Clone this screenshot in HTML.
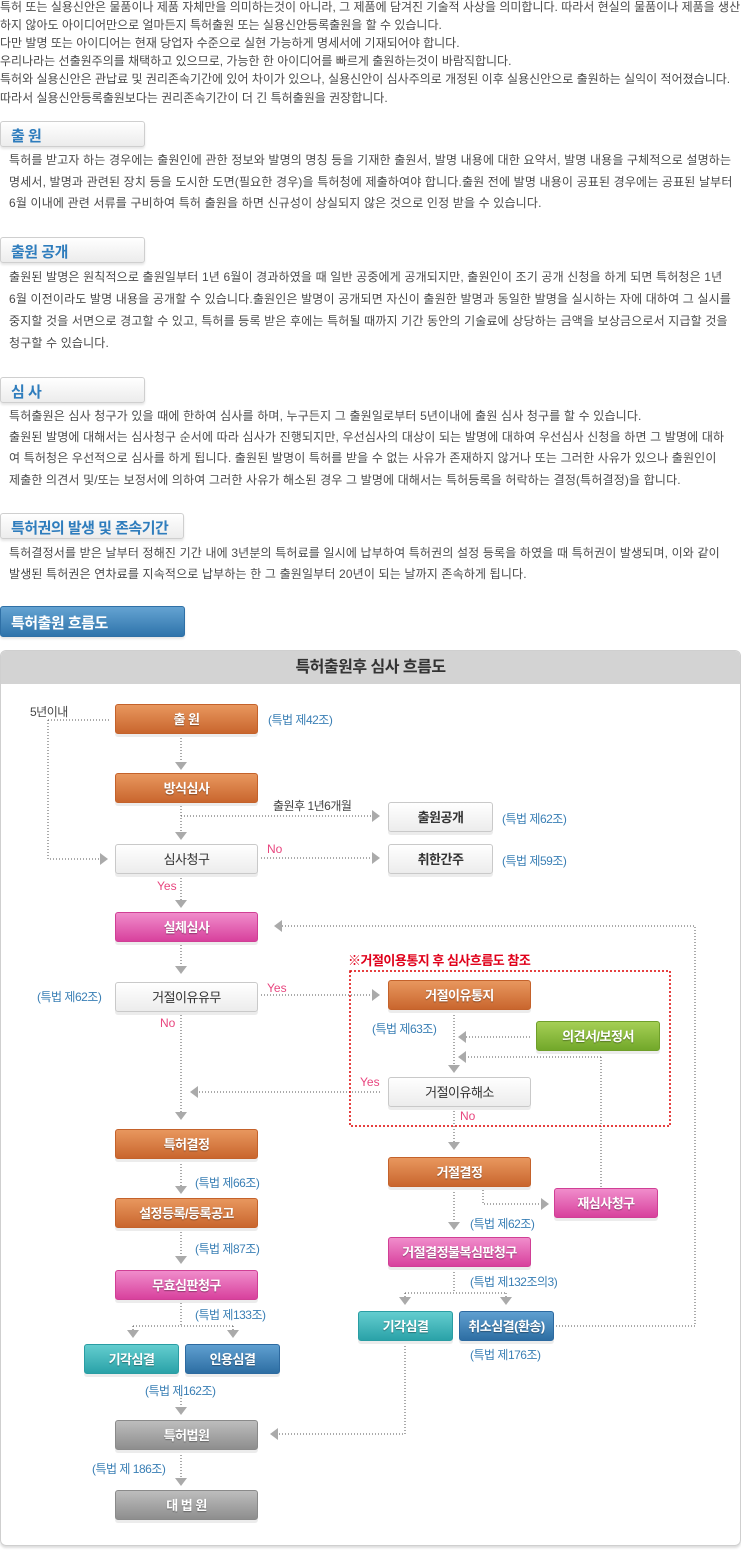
<!DOCTYPE html>
<html><head><meta charset="utf-8">
<style>
*{margin:0;padding:0;box-sizing:border-box}
body{width:741px;height:1550px;position:relative;background:#fff;font-family:"Liberation Sans","Noto Sans CJK KR",sans-serif;color:#4a4a4a;overflow:hidden}
.t{position:absolute;font-size:12px;white-space:nowrap;letter-spacing:0;line-height:14px}
.tb{letter-spacing:0.15px}
.sh{position:absolute;left:0;width:145px;height:26px;border:1px solid #cfcfcf;border-radius:3px;background:linear-gradient(#fff,#ececec);box-shadow:0 2px 2px #e6e6e6;color:#2f7dbd;font-weight:bold;font-size:15px;padding:3px 0 0 10px;letter-spacing:-0.5px;white-space:nowrap}
.bx{position:absolute;width:143px;height:30px;border-radius:3px;color:#fff;font-weight:bold;font-size:13px;text-align:center;line-height:30px;text-shadow:0 1px 1px rgba(0,0,0,.35);box-shadow:0 3px 0 #ececec;letter-spacing:-0.5px;white-space:nowrap}
.o{background:linear-gradient(#e8975e,#c9662e);border:1px solid #c4622b}
.p{background:linear-gradient(#f08ccb,#d8419d);border:1px solid #d03f95}
.g{background:linear-gradient(#a5cf55,#72a82a);border:1px solid #6f9f2a}
.c{background:linear-gradient(#63cdcf,#2aa2a8);border:1px solid #2a9da3}
.b{background:linear-gradient(#5f9fd0,#2d6ea3);border:1px solid #2d6aa0}
.gr{background:linear-gradient(#bdbdbd,#8e8e8e);border:1px solid #8a8a8a}
.w{background:linear-gradient(#fff,#ececec);border:1px solid #c9c9c9;color:#333;text-shadow:none;font-weight:bold}
.l{position:absolute;font-size:12px;color:#3a7fb5;white-space:nowrap;letter-spacing:-0.5px}
.pk{position:absolute;font-size:12px;color:#e8467f;white-space:nowrap}
</style></head><body>
<div class="t" style="left:0;top:0">특허 또는 실용신안은 물품이나 제품 자체만을 의미하는것이 아니라, 그 제품에 담겨진 기술적 사상을 의미합니다. 따라서 현실의 물품이나 제품을 생산</div>
<div class="t" style="left:0;top:18px">하지 않아도 아이디어만으로 얼마든지 특허출원 또는 실용신안등록출원을 할 수 있습니다.</div>
<div class="t" style="left:0;top:36px">다만 발명 또는 아이디어는 현재 당업자 수준으로 실현 가능하게 명세서에 기재되어야 합니다.</div>
<div class="t" style="left:0;top:54px">우리나라는 선출원주의를 채택하고 있으므로, 가능한 한 아이디어를 빠르게 출원하는것이 바람직합니다.</div>
<div class="t" style="left:0;top:72px">특허와 실용신안은 관납료 및 권리존속기간에 있어 차이가 있으나, 실용신안이 심사주의로 개정된 이후 실용신안으로 출원하는 실익이 적어졌습니다.</div>
<div class="t" style="left:0;top:91px">따라서 실용신안등록출원보다는 권리존속기간이 더 긴 특허출원을 권장합니다.</div>

<div class="sh" style="top:121px">출 원</div>
<div class="t tb" style="left:9px;top:153px">특허를 받고자 하는 경우에는 출원인에 관한 정보와 발명의 명칭 등을 기재한 출원서, 발명 내용에 대한 요약서, 발명 내용을 구체적으로 설명하는</div>
<div class="t tb" style="left:9px;top:175px">명세서, 발명과 관련된 장치 등을 도시한 도면(필요한 경우)을 특허청에 제출하여야 합니다.출원 전에 발명 내용이 공표된 경우에는 공표된 날부터</div>
<div class="t tb" style="left:9px;top:196px">6월 이내에 관련 서류를 구비하여 특허 출원을 하면 신규성이 상실되지 않은 것으로 인정 받을 수 있습니다.</div>

<div class="sh" style="top:237px">출원 공개</div>
<div class="t tb" style="left:9px;top:270px">출원된 발명은 원칙적으로 출원일부터 1년 6월이 경과하였을 때 일반 공중에게 공개되지만, 출원인이 조기 공개 신청을 하게 되면 특허청은 1년</div>
<div class="t tb" style="left:9px;top:292px">6월 이전이라도 발명 내용을 공개할 수 있습니다.출원인은 발명이 공개되면 자신이 출원한 발명과 동일한 발명을 실시하는 자에 대하여 그 실시를</div>
<div class="t tb" style="left:9px;top:314px">중지할 것을 서면으로 경고할 수 있고, 특허를 등록 받은 후에는 특허될 때까지 기간 동안의 기술료에 상당하는 금액을 보상금으로서 지급할 것을</div>
<div class="t tb" style="left:9px;top:336px">청구할 수 있습니다.</div>

<div class="sh" style="top:377px">심 사</div>
<div class="t tb" style="left:9px;top:409px">특허출원은 심사 청구가 있을 때에 한하여 심사를 하며, 누구든지 그 출원일로부터 5년이내에 출원 심사 청구를 할 수 있습니다.</div>
<div class="t tb" style="left:9px;top:430px">출원된 발명에 대해서는 심사청구 순서에 따라 심사가 진행되지만, 우선심사의 대상이 되는 발명에 대하여 우선심사 신청을 하면 그 발명에 대하</div>
<div class="t tb" style="left:9px;top:451px">여 특허청은 우선적으로 심사를 하게 됩니다. 출원된 발명이 특허를 받을 수 없는 사유가 존재하지 않거나 또는 그러한 사유가 있으나 출원인이</div>
<div class="t tb" style="left:9px;top:473px">제출한 의견서 및/또는 보정서에 의하여 그러한 사유가 해소된 경우 그 발명에 대해서는 특허등록을 허락하는 결정(특허결정)을 합니다.</div>

<div class="sh" style="top:513px;width:184px">특허권의 발생 및 존속기간</div>
<div class="t tb" style="left:9px;top:546px">특허결정서를 받은 날부터 정해진 기간 내에 3년분의 특허료를 일시에 납부하여 특허권의 설정 등록을 하였을 때 특허권이 발생되며, 이와 같이</div>
<div class="t tb" style="left:9px;top:567px">발생된 특허권은 연차료를 지속적으로 납부하는 한 그 출원일부터 20년이 되는 날까지 존속하게 됩니다.</div>

<div class="sh" style="top:606px;width:185px;height:31px;background:linear-gradient(#64a3d2,#2f74ab);border-color:#2f70a6;color:#fff;padding-top:5px">특허출원 흐름도</div>

<div style="position:absolute;left:0;top:650px;width:741px;height:896px;border:1px solid #cfcfcf;border-radius:6px;box-shadow:0 2px 2px #ddd;overflow:hidden">
<div style="height:33px;background:#d3d3d3;text-align:center;line-height:33px;font-size:16px;font-weight:bold;color:#333;letter-spacing:-0.5px">특허출원후 심사 흐름도</div>
</div>

<svg style="position:absolute;left:0;top:0" width="741" height="1550">
<g stroke="#555" stroke-width="1" stroke-dasharray="1,2" fill="none">
<path d="M48 720H110M48 720V859H100"/>
<path d="M181 738V762M181 806V832M181 816H372M261 858H372M181 875V900"/>
<path d="M181 942V966M261 995H372M181 1015V1112M380 1092H198"/>
<path d="M454 1015V1065M530 1037H466M601 1057H466M601 1057V1188M454 1108V1142"/>
<path d="M483 1190V1204H541M454 1192V1222"/>
<path d="M181 1164V1186M181 1232V1256M181 1303V1326M133 1326H233M133 1326V1330M233 1326V1330"/>
<path d="M181 1395V1407M181 1455V1478"/>
<path d="M454 1272V1293M405 1293H506M405 1293V1297M506 1293V1297"/>
<path d="M556 1326H695V926H282M405 1346V1434H278"/>
</g>
<g stroke="#d00" stroke-width="1.5" stroke-dasharray="2,2" fill="none"><rect x="350" y="971" width="320" height="155"/></g>
<g fill="#aaa">
<polygon points="100,853 108,859 100,865"/>
<polygon points="175,762 187,762 181,770"/><polygon points="175,832 187,832 181,840"/>
<polygon points="372,810 380,816 372,822"/><polygon points="372,852 380,858 372,864"/>
<polygon points="175,900 187,900 181,908"/><polygon points="175,966 187,966 181,974"/>
<polygon points="372,989 380,995 372,1001"/><polygon points="175,1112 187,1112 181,1120"/>
<polygon points="198,1086 190,1092 198,1098"/><polygon points="448,1065 460,1065 454,1073"/>
<polygon points="466,1031 458,1037 466,1043"/><polygon points="466,1051 458,1057 466,1063"/>
<polygon points="448,1142 460,1142 454,1150"/><polygon points="541,1198 549,1204 541,1210"/>
<polygon points="448,1222 460,1222 454,1230"/><polygon points="175,1186 187,1186 181,1194"/>
<polygon points="175,1256 187,1256 181,1264"/><polygon points="127,1330 139,1330 133,1338"/>
<polygon points="227,1330 239,1330 233,1338"/><polygon points="175,1407 187,1407 181,1415"/>
<polygon points="175,1478 187,1478 181,1486"/><polygon points="399,1297 411,1297 405,1305"/>
<polygon points="500,1297 512,1297 506,1305"/><polygon points="282,920 274,926 282,932"/>
<polygon points="278,1428 270,1434 278,1440"/>
</g>
</svg>

<div style="position:absolute;left:30px;top:703px;font-size:12px;color:#444;letter-spacing:-0.5px">5년이내</div>
<div class="bx o" style="left:115px;top:704px">출 원</div>
<div class="l" style="left:268px;top:711px">(특법 제42조)</div>
<div class="bx o" style="left:115px;top:773px">방식심사</div>
<div style="position:absolute;left:273px;top:797px;font-size:12px;color:#444;letter-spacing:-0.5px">출원후 1년6개월</div>
<div class="bx w" style="left:388px;top:802px;width:105px">출원공개</div>
<div class="l" style="left:502px;top:810px">(특법 제62조)</div>
<div class="bx w" style="left:115px;top:844px;font-weight:normal">심사청구</div>
<div class="pk" style="left:267px;top:842px">No</div>
<div class="bx w" style="left:388px;top:844px;width:105px">취한간주</div>
<div class="l" style="left:502px;top:852px">(특법 제59조)</div>
<div class="pk" style="left:157px;top:879px">Yes</div>
<div class="bx p" style="left:115px;top:912px">실체심사</div>

<div style="position:absolute;left:348px;top:950px;font-size:13px;color:#e0001a;font-weight:bold;letter-spacing:-0.5px">※거절이용통지 후 심사흐름도 참조</div>
<div class="l" style="left:37px;top:988px">(특법 제62조)</div>
<div class="bx w" style="left:115px;top:982px;font-weight:normal">거절이유유무</div>
<div class="pk" style="left:267px;top:981px">Yes</div>
<div class="pk" style="left:160px;top:1016px">No</div>
<div class="bx o" style="left:388px;top:980px">거절이유통지</div>
<div class="l" style="left:372px;top:1020px">(특법 제63조)</div>
<div class="bx g" style="left:536px;top:1021px;width:124px">의견서/보정서</div>
<div class="pk" style="left:360px;top:1075px">Yes</div>
<div class="bx w" style="left:388px;top:1077px;font-weight:normal">거절이유해소</div>
<div class="pk" style="left:460px;top:1109px">No</div>

<div class="bx o" style="left:115px;top:1129px">특허결정</div>
<div class="bx o" style="left:388px;top:1157px">거절결정</div>
<div class="l" style="left:195px;top:1174px">(특법 제66조)</div>
<div class="bx p" style="left:554px;top:1188px;width:104px">재심사청구</div>
<div class="bx o" style="left:115px;top:1198px">설정등록/등록공고</div>
<div class="l" style="left:470px;top:1215px">(특법 제62조)</div>
<div class="bx p" style="left:388px;top:1237px">거절결정불복심판청구</div>
<div class="l" style="left:195px;top:1240px">(특법 제87조)</div>
<div class="bx p" style="left:115px;top:1270px">무효심판청구</div>
<div class="l" style="left:470px;top:1273px">(특법 제132조의3)</div>
<div class="l" style="left:195px;top:1306px">(특법 제133조)</div>
<div class="bx c" style="left:358px;top:1311px;width:95px">기각심결</div>
<div class="bx b" style="left:459px;top:1311px;width:95px">취소심결(환송)</div>
<div class="bx c" style="left:84px;top:1344px;width:95px">기각심결</div>
<div class="bx b" style="left:185px;top:1344px;width:95px">인용심결</div>
<div class="l" style="left:470px;top:1346px">(특법 제176조)</div>
<div class="l" style="left:145px;top:1382px">(특법 제162조)</div>
<div class="bx gr" style="left:115px;top:1420px">특허법원</div>
<div class="l" style="left:92px;top:1460px">(특법 제 186조)</div>
<div class="bx gr" style="left:115px;top:1490px">대 법 원</div>
</body></html>
